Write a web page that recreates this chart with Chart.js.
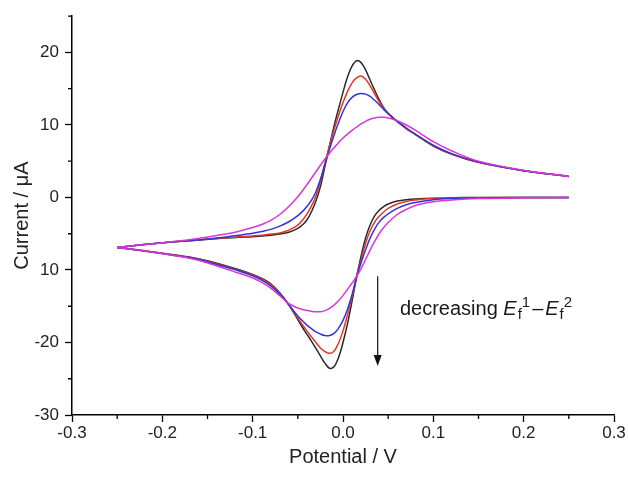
<!DOCTYPE html>
<html lang="en">
<head>
<meta charset="UTF-8" />
<title>Cyclic voltammograms</title>
<style>
  body { margin: 0; background: #fff; }
  #wrap { width: 628px; height: 477px; }
</style>
<script src="https://cdn.jsdelivr.net/npm/chart.js"></script>
</head>
<body>
<div id="wrap"><canvas id="cv" width="628" height="477"></canvas></div>
<script>
// potential grid (V), same for both scan directions
const potential = [-0.25, -0.22, -0.19, -0.16, -0.13, -0.115, -0.1, -0.09, -0.08, -0.07, -0.06,
  -0.05, -0.045, -0.04, -0.035, -0.03, -0.025, -0.02, -0.015, -0.01, -0.005,
  0, 0.005, 0.01, 0.015, 0.02, 0.025, 0.03, 0.035, 0.04, 0.045,
  0.05, 0.06, 0.07, 0.08, 0.1, 0.12, 0.15, 0.2, 0.25];

// forward (oxidation) scan, current in uA
const blackFwd = [-6.9, -6.5, -6.15, -5.85, -5.6, -5.5, -5.4, -5.3, -5.2, -5.05, -4.8,
  -4.25, -3.8, -3.1, -2.0, -0.5, 1.5, 4.3, 7.1, 9.8, 12.2,
  14.5, 16.6, 18.1, 18.85, 18.6, 17.6, 16.2, 14.8, 13.5, 12.4,
  11.6, 10.5, 9.5, 8.7, 7.1, 6.0, 4.85, 3.7, 2.9];
const redFwd = [-6.9, -6.5, -6.15, -5.85, -5.55, -5.43, -5.3, -5.2, -5.05, -4.9, -4.5,
  -3.8, -3.15, -2.3, -1.2, 0.2, 2.2, 4.7, 7.1, 9.3, 11.3,
  13.1, 14.6, 15.8, 16.5, 16.75, 16.3, 15.4, 14.3, 13.2, 12.3,
  11.55, 10.5, 9.5, 8.7, 7.1, 6.0, 4.85, 3.7, 2.9];
const blueFwd = [-6.9, -6.5, -6.15, -5.85, -5.45, -5.22, -4.95, -4.7, -4.4, -3.95, -3.35,
  -2.5, -1.95, -1.25, -0.4, 0.8, 2.5, 4.6, 6.6, 8.55, 10.3,
  11.85, 13.05, 13.8, 14.2, 14.35, 14.25, 13.95, 13.4, 12.8, 12.15,
  11.55, 10.5, 9.6, 8.75, 7.2, 6.05, 4.9, 3.7, 2.9];
const magentaFwd = [-6.9, -6.5, -6.1, -5.65, -5.05, -4.65, -4.15, -3.72, -3.15, -2.35, -1.25,
  0.1, 0.9, 1.75, 2.65, 3.55, 4.45, 5.3, 6.1, 6.85, 7.55,
  8.2, 8.75, 9.25, 9.72, 10.15, 10.5, 10.78, 10.96, 11.05, 11.05,
  10.95, 10.6, 10.0, 9.3, 7.7, 6.45, 5.0, 3.75, 2.9];

// reverse (reduction) scan
const blackRev = [-6.9, -7.35, -7.85, -8.45, -9.4, -9.95, -10.6, -11.15, -11.9, -13.15, -14.8,
  -16.85, -17.9, -18.85, -19.8, -20.8, -21.85, -22.85, -23.55, -23.35, -22.1,
  -20.0, -17.4, -14.3, -11.0, -8.1, -5.6, -3.8, -2.55, -1.75, -1.25,
  -0.9, -0.5, -0.3, -0.2, -0.1, -0.05, 0, 0, 0];
const redRev = [-6.9, -7.35, -7.9, -8.5, -9.5, -10.05, -10.7, -11.25, -12.0, -13.2, -14.8,
  -16.65, -17.55, -18.4, -19.2, -20.0, -20.75, -21.25, -21.5, -21.2, -20.1,
  -18.4, -16.2, -13.7, -11.0, -8.6, -6.3, -4.6, -3.4, -2.6, -2.0,
  -1.5, -0.9, -0.55, -0.35, -0.15, -0.08, -0.03, 0, 0];
const blueRev = [-6.9, -7.4, -7.95, -8.55, -9.6, -10.15, -10.8, -11.4, -12.2, -13.35, -14.8,
  -16.35, -17.0, -17.6, -18.1, -18.55, -18.85, -19.05, -19.05, -18.75, -18.05,
  -16.95, -15.4, -13.4, -11.0, -9.0, -7.2, -5.6, -4.35, -3.4, -2.75,
  -2.25, -1.5, -1.0, -0.7, -0.3, -0.15, -0.08, -0.02, 0];
const magentaRev = [-6.9, -7.4, -7.95, -8.65, -9.85, -10.45, -11.1, -11.7, -12.5, -13.55, -14.65,
  -15.25, -15.45, -15.6, -15.7, -15.77, -15.75, -15.6, -15.3, -14.85, -14.25,
  -13.5, -12.65, -11.8, -10.9, -9.8, -8.55, -7.25, -6.05, -5.0, -4.15,
  -3.45, -2.35, -1.65, -1.1, -0.6, -0.35, -0.15, -0.05, 0];

const xTicks = [-0.3, -0.2, -0.1, 0, 0.1, 0.2, 0.3];
const xTickLabels = ['-0.3', '-0.2', '-0.1', '0.0', '0.1', '0.2', '0.3'];
const xMinor = [-0.25, -0.15, -0.05, 0.05, 0.15, 0.25];
const yTicks = [-30, -20, -10, 0, 10, 20];
const yTickLabels = ['-30', '-20', '10', '0', '10', '20'];
const yMinor = [-25, -15, -5, 5, 15, 25];

// arrow and note, in data units
const arrowX = 0.0384, arrowFrom = -10.85, arrowTo = -23.25;
const noteX = 0.063, noteY = -16.2;

const FONT = "'Liberation Sans', Arial, sans-serif";
Chart.defaults.font.family = FONT;

const curves = [
  { fwd: magentaFwd, rev: magentaRev, color: '#d836d8' },
  { fwd: blueFwd, rev: blueRev, color: '#3434d6' },
  { fwd: redFwd, rev: redRev, color: '#e0382a' },
  { fwd: blackFwd, rev: blackRev, color: '#2a2a2a' }
];

const datasets = [];
curves.forEach((c, k) => {
  [c.fwd, c.rev].forEach(arr => {
    datasets.push({
      data: potential.map((x, i) => ({ x: x, y: arr[i] })),
      borderColor: c.color,
      borderWidth: 1.5,
      pointRadius: 0,
      fill: false,
      tension: 0.35,
      order: k
    });
  });
});

const extras = {
  id: 'extras',
  afterDraw(chart) {
    const { ctx } = chart;
    const x = chart.scales.x, y = chart.scales.y;
    ctx.save();
    ctx.strokeStyle = '#000';
    ctx.lineWidth = 1.3;
    ctx.beginPath();
    xMinor.forEach(v => {
      const px = x.getPixelForValue(v);
      ctx.moveTo(px, y.bottom);
      ctx.lineTo(px, y.bottom + 4);
    });
    yMinor.forEach(v => {
      const py = y.getPixelForValue(v);
      ctx.moveTo(x.left, py);
      ctx.lineTo(x.left - 4, py);
    });
    ctx.stroke();

    // arrow
    const ax = x.getPixelForValue(arrowX);
    const a1 = y.getPixelForValue(arrowFrom), a2 = y.getPixelForValue(arrowTo);
    ctx.strokeStyle = '#111';
    ctx.fillStyle = '#111';
    ctx.lineWidth = 1.2;
    ctx.beginPath();
    ctx.moveTo(ax, a1);
    ctx.lineTo(ax, a2 - 8);
    ctx.stroke();
    ctx.beginPath();
    ctx.moveTo(ax, a2);
    ctx.lineTo(ax - 4, a2 - 11);
    ctx.lineTo(ax + 4, a2 - 11);
    ctx.closePath();
    ctx.fill();

    // note text: decreasing Ef1-Ef2
    let tx = x.getPixelForValue(noteX);
    const ty = y.getPixelForValue(noteY);
    ctx.fillStyle = '#1a1a1a';
    ctx.textBaseline = 'alphabetic';
    const put = (s, font, dy, gap) => {
      ctx.font = font;
      ctx.fillText(s, tx, ty + dy);
      tx += ctx.measureText(s).width + (gap || 0);
    };
    put('decreasing ', '20px ' + FONT, 0);
    put('E', 'italic 20px ' + FONT, 0, 1);
    put('f', '15px ' + FONT, 4);
    put('1', '15px ' + FONT, -8, 2);
    put('\u2013', '20px ' + FONT, 0, 2);
    put('E', 'italic 20px ' + FONT, 0, 1);
    put('f', '15px ' + FONT, 4);
    put('2', '15px ' + FONT, -8);
    ctx.restore();
  }
};

new Chart(document.getElementById('cv'), {
  type: 'line',
  data: { datasets },
  plugins: [extras],
  options: {
    responsive: false,
    animation: false,
    layout: { padding: { top: 16, right: 14, left: 0, bottom: 0 } },
    plugins: { legend: { display: false }, tooltip: { enabled: false } },
    scales: {
      x: {
        type: 'linear',
        min: -0.3,
        max: 0.3,
        afterBuildTicks: s => { s.ticks = xTicks.map(v => ({ value: v })); },
        afterFit: s => { s.height = 62; },
        grid: { drawOnChartArea: false, drawTicks: true, tickLength: 7, tickColor: '#000', tickWidth: 1.3 },
        border: { display: true, color: '#000', width: 1.5 },
        ticks: {
          padding: 1,
          color: '#222',
          font: { size: 17 },
          maxRotation: 0,
          callback: (v, i) => xTickLabels[i]
        },
        title: { display: true, text: 'Potential / V', color: '#222', font: { size: 20 }, padding: { top: 0, bottom: 8 } }
      },
      y: {
        type: 'linear',
        min: -30,
        max: 25,
        afterBuildTicks: s => { s.ticks = yTicks.map(v => ({ value: v })); },
        afterFit: s => { s.width = 72; },
        grid: { drawOnChartArea: false, drawTicks: true, tickLength: 7, tickColor: '#000', tickWidth: 1.3 },
        border: { display: true, color: '#000', width: 1.5 },
        ticks: {
          padding: 6,
          color: '#222',
          font: { size: 17 },
          callback: (v, i) => yTickLabels[i]
        },
        title: { display: true, text: 'Current / \u03bcA', color: '#222', font: { size: 20 }, padding: { top: 10, bottom: 0 } }
      }
    }
  }
});
</script>
</body>
</html>
